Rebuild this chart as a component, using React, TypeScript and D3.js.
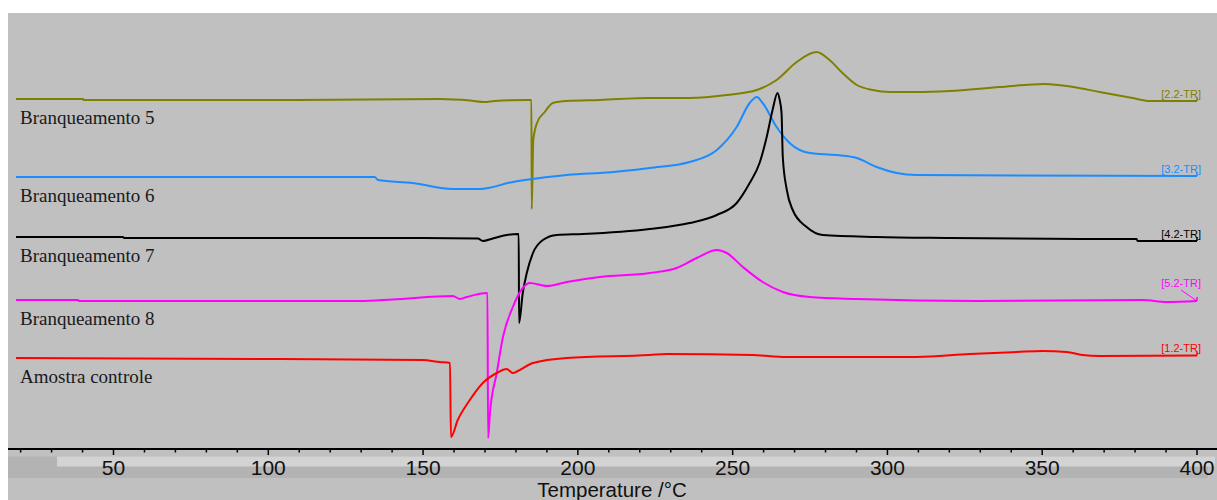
import { useEffect, useRef } from 'react';
import * as d3 from 'd3';

// temperature (°C) and heat-flow signal (arbitrary units)
const olive = [
  [18.5, 35.0], [40.2, 35.0], [40.3, 34.9], [110, 34.9], [155.4, 35.0], [165.1, 34.85],
  [169.9, 34.7], [173.0, 34.8], [184.0, 34.9], [185.0, 34.9], [185.1, 24.0], [185.6, 30.9],
  [186.8, 32.6], [189.3, 33.7], [191.9, 34.6], [196.4, 34.8], [207.1, 34.9], [223.2, 35.1],
  [236.1, 35.1], [248.1, 35.4], [257.8, 35.9], [264.2, 36.9], [270.7, 38.7], [277.1, 39.7],
  [281.3, 38.9], [285.5, 37.6], [290.1, 36.4], [295.2, 35.9], [300.7, 35.7], [309.4, 35.7],
  [320.1, 35.8], [336.2, 36.2], [350.8, 36.5], [360.0, 36.2], [368.5, 35.7], [379.2, 35.1],
  [384.7, 34.8], [400, 34.8],
];
const blue = [
  [18.5, 27.2], [134.4, 27.2], [135.4, 26.9], [146.7, 26.6], [159.6, 26.0], [168.3, 26.0],
  [179.0, 26.7], [185.4, 27.0], [200.6, 27.5], [207.1, 27.6], [223.2, 28.1], [236.1, 28.7],
  [244.9, 29.9], [251.3, 32.2], [255.5, 34.6], [257.8, 35.2], [259.7, 34.6], [264.2, 32.2],
  [268.4, 30.6], [274.9, 29.6], [283.6, 29.4], [290.1, 29.1], [296.5, 28.2], [303.0, 27.6],
  [309.4, 27.4], [400, 27.3],
];
const black = [
  [18.5, 21.2], [53.1, 21.2], [53.4, 21.1], [149.9, 21.1], [167.7, 21.05], [169.3, 20.8],
  [172.5, 21.05], [177.0, 21.4], [180.9, 21.5], [181.0, 12.6], [182.2, 15.6], [183.5, 17.6],
  [185.5, 19.6], [188.7, 20.9], [193.2, 21.4], [201.6, 21.5], [223.2, 22.0], [236.1, 22.6],
  [244.9, 23.4], [251.3, 24.6], [255.5, 26.6], [258.7, 28.6], [261.0, 31.2], [262.9, 33.9],
  [264.5, 35.6], [265.2, 34.9], [265.8, 33.6], [266.2, 29.2], [267.5, 25.9], [269.4, 23.9],
  [273.9, 22.2], [279.1, 21.4], [296.5, 21.2], [320.1, 21.1], [363.0, 21.0], [380.5, 21.0],
  [380.8, 20.8], [400, 20.8],
];
const magenta = [
  [18.5, 14.9], [38.5, 14.9], [38.9, 14.8], [129.6, 14.8], [140.2, 14.95], [159.6, 15.3],
  [161.9, 15.0], [164.1, 15.2], [170.8, 15.6], [171.0, 1.1], [171.6, 3.6], [173.8, 7.6],
  [175.8, 11.2], [179.0, 14.2], [182.2, 16.1], [184.5, 16.6], [190.0, 16.3], [196.4, 16.7],
  [207.1, 17.2], [223.2, 17.6], [231.9, 18.1], [238.4, 19.1], [244.9, 19.9], [248.1, 19.6],
  [253.3, 18.2], [259.7, 16.7], [266.2, 15.7], [274.9, 15.2], [290.1, 15.0], [328.8, 14.8],
  [382.4, 14.9], [390.2, 14.7], [400, 14.8],
];
const red = [
  [18.5, 9.1], [103.8, 9.0], [149.9, 8.9], [155.4, 8.7], [158.7, 8.6], [159.0, 1.2],
  [161.2, 2.9], [165.1, 4.9], [169.3, 6.6], [173.8, 7.6], [177.0, 8.0], [179.0, 7.6],
  [180.6, 7.8], [185.5, 8.6], [196.4, 9.1], [223.2, 9.4], [228.7, 9.5], [256.4, 9.4],
  [267.4, 9.2], [309.4, 9.2], [326.6, 9.5], [341.7, 9.7], [350.1, 9.8], [357.9, 9.7],
  [363.0, 9.4], [368.5, 9.3], [400, 9.35],
];

const seriesNames = ['Branqueamento 5', 'Branqueamento 6', 'Branqueamento 7', 'Branqueamento 8', 'Amostra controle'];
const seriesTags = ['[2.2-TR]', '[3.2-TR]', '[4.2-TR]', '[5.2-TR]', '[1.2-TR]'];
const seriesColors = ['#808000', '#1a8cff', '#000000', '#ff00ff', '#ff0000'];
const seriesData = [olive, blue, black, magenta, red];
const xTicks = [50, 100, 150, 200, 250, 300, 350, 400];
const xLabel = 'Temperature /°C';

const W = 1217;
const H = 500;

const DscChart = () => {
  const svgRef = useRef<SVGSVGElement>(null);

  useEffect(() => {
    const svg = d3.select(svgRef.current);
    svg.selectAll('*').remove();

    const x = d3.scaleLinear().domain([50, 400]).range([113.5, 1197]);
    const y = d3.scaleLinear().domain([0, 43.6]).range([449, 13]);

    // background
    svg.append('rect').attr('width', W).attr('height', H).attr('fill', '#ffffff');
    svg.append('rect').attr('x', 8).attr('y', 13).attr('width', W - 8).attr('height', H - 13).attr('fill', '#c0c0c0');

    // scrollbar look under the axis
    svg.append('rect').attr('x', 8).attr('y', 456.5).attr('width', 1200).attr('height', 21.5).attr('fill', '#b3b3b3');
    svg.append('rect').attr('x', 57).attr('y', 456.5).attr('width', 1158).attr('height', 10).attr('fill', '#d3d3d3');

    // curves
    const line = d3.line<number[]>()
      .x(d => x(d[0]))
      .y(d => y(d[1]))
      .curve(d3.curveMonotoneX);

    seriesData.forEach((data, i) => {
      svg.append('path')
        .datum(data)
        .attr('fill', 'none')
        .attr('stroke', seriesColors[i])
        .attr('stroke-width', 2)
        .attr('stroke-linejoin', 'round')
        .attr('d', line);

      const first = data[0];
      const last = data[data.length - 1];

      // left label
      svg.append('text')
        .attr('x', 20)
        .attr('y', y(first[1]) + 25)
        .attr('font-family', '"Liberation Serif", "Times New Roman", serif')
        .attr('font-size', 19)
        .attr('fill', '#1a1a1a')
        .text(seriesNames[i]);

      // right tag
      const lift = i === 3 ? 14 : 3.5;
      svg.append('text')
        .attr('x', x(last[0]) + 4)
        .attr('y', y(last[1]) - lift)
        .attr('text-anchor', 'end')
        .attr('font-family', '"Liberation Sans", Arial, sans-serif')
        .attr('font-size', 11)
        .attr('fill', seriesColors[i])
        .text(seriesTags[i]);

      // little end hook
      svg.append('line')
        .attr('x1', x(last[0])).attr('x2', x(last[0]))
        .attr('y1', y(last[1])).attr('y2', y(last[1]) - 4)
        .attr('stroke', seriesColors[i])
        .attr('stroke-width', 1.5);

      if (i === 3) {
        svg.append('line')
          .attr('x1', x(last[0]) - 16).attr('y1', y(last[1]) - 11)
          .attr('x2', x(last[0])).attr('y2', y(last[1]))
          .attr('stroke', seriesColors[i])
          .attr('stroke-width', 1);
      }
    });

    // x axis
    const minor = d3.range(20, 401, 10);
    svg.append('line')
      .attr('x1', 8).attr('x2', W)
      .attr('y1', 449).attr('y2', 449)
      .attr('stroke', '#000').attr('stroke-width', 2);

    svg.selectAll('.tick')
      .data(minor)
      .enter().append('line')
      .attr('class', 'tick')
      .attr('x1', d => x(d)).attr('x2', d => x(d))
      .attr('y1', 449)
      .attr('y2', d => (d % 50 === 0 ? 455 : 452.5))
      .attr('stroke', '#000')
      .attr('stroke-width', 1.5);

    svg.selectAll('.tlabel')
      .data(xTicks)
      .enter().append('text')
      .attr('class', 'tlabel')
      .attr('x', d => x(d))
      .attr('y', 475)
      .attr('text-anchor', 'middle')
      .attr('font-family', '"Liberation Sans", Arial, sans-serif')
      .attr('font-size', 21)
      .attr('fill', '#111')
      .text(d => d);

    svg.append('text')
      .attr('x', 612)
      .attr('y', 497)
      .attr('text-anchor', 'middle')
      .attr('font-family', '"Liberation Sans", Arial, sans-serif')
      .attr('font-size', 20.5)
      .attr('fill', '#111')
      .text(xLabel);
  }, []);

  return (
    <svg
      ref={svgRef}
      width={W}
      height={H}
      style={{ position: 'absolute', left: 0, top: 0, display: 'block' }}
    />
  );
};

export default function App() {
  return <DscChart />;
}
